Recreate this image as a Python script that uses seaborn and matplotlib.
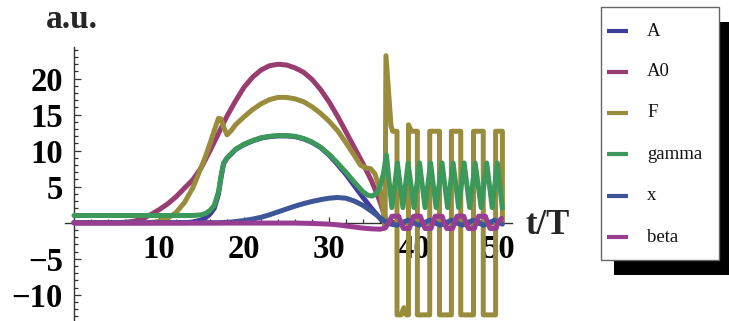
import matplotlib
matplotlib.use("Agg")
import matplotlib.pyplot as plt
from matplotlib.patches import Rectangle
from matplotlib.lines import Line2D
from matplotlib.ticker import MultipleLocator, FixedLocator
import seaborn as sns
import pandas as pd

# ---- series (time in units of T, values in a.u.) ----
series_names = ["A", "A0", "F", "gamma", "x", "beta"]
series_colors = ["#3f3d99", "#993d70", "#998d3d", "#3d9959", "#3d5699", "#993d93"]

A_t = [0, 13, 14, 15, 15.5, 16, 16.5, 17, 17.3, 17.6, 18, 19, 20, 21, 22, 23, 24, 25, 26,
       27, 28, 29, 30, 31, 32, 33, 34, 35, 36, 36.5, 50.3]
A_v = [0, 0, 0.1, 0.4, 0.7, 1.2, 2.0, 4.0, 6.3, 8.2, 8.95, 10.15, 10.85, 11.35, 11.75, 11.95,
       12.05, 12.05, 11.95, 11.65, 11.15, 10.45, 9.4, 8.1, 6.7, 5.1, 3.5, 2.0, 0.6, 0, 0]

A0_t = [0, 5, 6, 7, 8, 9, 10, 11, 12, 13, 14, 15, 16, 17, 18, 19, 20, 21, 22, 23, 24, 25,
        26, 27, 28, 29, 30, 31, 32, 33, 34, 35, 35.5, 36, 36.5, 36.8, 37, 50.3]
A0_v = [0, 0, 0.05, 0.2, 0.5, 1.1, 1.8, 2.6, 3.6, 4.8, 6.0, 7.7, 10.0, 12.4, 14.8, 16.9,
        18.8, 20.2, 21.2, 21.8, 22.0, 21.9, 21.5, 20.9, 19.9, 18.5, 16.8, 14.8, 12.6, 10.4,
        8.2, 5.8, 4.4, 2.9, 1.1, 0.2, 0, 0]

F_t = [0, 9, 10, 11, 12, 13, 14, 15, 15.5, 16, 16.5, 17, 17.3, 17.6, 18, 18.5, 19, 20, 21,
       22, 23, 24, 25, 26, 27, 28, 29, 30, 31, 32, 33, 33.7, 34.3, 34.9, 35.4, 36, 36.4,
       36.6, 36.7, 37.3, 37.5, 38.0, 38.0, 38.5, 38.8, 39.1, 39.35, 39.35, 39.7, 40.4,
       40.4, 41.85, 41.85, 43.0, 43.0, 44.4, 44.4, 45.5, 45.5, 47.0, 47.0, 48.15, 48.15,
       49.6, 49.6, 50.4, 50.4]
F_v = [0, 0, 0.2, 0.6, 1.4, 2.8, 4.9, 7.8, 9.3, 11.0, 12.8, 14.5, 14.4, 13.3, 12.2, 12.8,
       13.6, 14.7, 15.7, 16.5, 17.1, 17.4, 17.4, 17.2, 16.8, 16.1, 15.2, 14.1, 12.8, 11.1,
       9.3, 8.0, 7.6, 7.5, 6.8, 4.6, 1.5, -0.6, 23.2, 13.4, 12.7, 12.7, -12.8, -12.8,
       -11.8, -12.8, -12.8, 13.6, 12.7, 12.7, -12.8, -12.8, 12.7, 12.7, -12.8, -12.8,
       12.7, 12.7, -12.8, -12.8, 12.7, 12.7, -12.8, -12.8, 12.7, 12.7, 0]

gamma_t = [0, 14, 15, 15.5, 16, 16.5, 17, 17.3, 17.6, 18, 19, 20, 21, 22, 23, 24, 25, 26,
           27, 28, 29, 30, 31, 32, 33, 34, 34.6, 35.1, 35.6, 36.0, 36.4, 36.75, 37.4,
           38.05, 38.7, 39.3, 40.0, 40.65, 41.3, 41.95, 42.6, 43.3, 43.95, 44.6, 45.25,
           45.9, 46.55, 47.2, 47.9, 48.55, 49.2, 49.8, 50.4]
gamma_v = [1.0, 1.0, 1.1, 1.3, 1.7, 2.4, 4.3, 6.5, 8.3, 9.0, 10.2, 10.9, 11.4, 11.8, 12.0,
           12.1, 12.1, 12.0, 11.7, 11.2, 10.5, 9.5, 8.3, 7.0, 5.6, 4.3, 3.8, 3.7, 4.1, 5.0,
           6.8, 9.4, 2.1, 8.3, 2.1, 8.3, 2.1, 8.3, 2.1, 8.3, 2.1, 8.3, 2.1, 8.3, 2.1, 8.3,
           2.1, 8.3, 2.1, 8.3, 2.1, 8.3, 2.0]

x_t = [0, 17, 18, 19, 20, 21, 22, 23, 24, 25, 26, 27, 28, 29, 30, 31, 32, 33, 34, 35, 36,
       36.7, 37.3, 38.0, 38.6, 39.3, 39.9, 40.6, 41.2, 41.85, 42.45, 43.1, 43.75, 44.4,
       45.0, 45.65, 46.3, 46.95, 47.55, 48.2, 48.85, 49.5, 50.4]
x_v = [0, 0, 0.05, 0.15, 0.3, 0.5, 0.75, 1.1, 1.5, 1.9, 2.3, 2.65, 2.95, 3.2, 3.4, 3.5,
       3.4, 3.0, 2.4, 1.6, 0.7, 0.1, -0.2, -0.35, 0, 0.35, 0, -0.35, 0, 0.35, 0, -0.35,
       0, 0.35, 0, -0.35, 0, 0.35, 0, -0.35, 0, 0.35, -0.2]

beta_t = [0, 26, 28, 30, 31, 32, 33, 34, 35, 36, 36.6, 37.0, 37.4, 38.2, 38.45, 38.75,
          39.45, 39.7, 39.95, 40.75, 41.0, 41.3, 42.0, 42.25, 42.5, 43.3, 43.55, 43.85,
          44.55, 44.8, 45.05, 45.85, 46.1, 46.4, 47.1, 47.35, 47.6, 48.4, 48.65, 48.95,
          49.65, 49.9, 50.3]
beta_v = [-0.05, -0.05, -0.1, -0.2, -0.3, -0.45, -0.6, -0.75, -0.85, -0.9, -0.75, -0.1,
          0.9, 0.9, 0.05, -0.8, -0.8, 0.05, 0.9, 0.9, 0.05, -0.8, -0.8, 0.05, 0.9, 0.9,
          0.05, -0.8, -0.8, 0.05, 0.9, 0.9, 0.05, -0.8, -0.8, 0.05, 0.9, 0.9, 0.05, -0.8,
          -0.8, 0.05, 0.6]

y_major = [-10, -5, 5, 10, 15, 20]
x_major = [10, 20, 30, 40, 50]

# ---- long-form table ----
frames = []
for name, t, v in zip(series_names,
                      [A_t, A0_t, F_t, gamma_t, x_t, beta_t],
                      [A_v, A0_v, F_v, gamma_v, x_v, beta_v]):
    frames.append(pd.DataFrame({"t": t, "value": v, "series": name}))
df = pd.concat(frames, ignore_index=True)

sns.set_theme(style="white")
plt.rcParams["font.family"] = ["Liberation Serif", "DejaVu Serif"]
plt.rcParams["axes.unicode_minus"] = True

W, H = 729, 321
fig = plt.figure(figsize=(W / 100, H / 100), dpi=100)
fig.patch.set_facecolor("white")

# axes box in pixel terms: x-axis from px 65 to 512, y-axis from px 47 to 321
ax = fig.add_axes([65 / W, 0, 447 / W, 274 / H])
ax.set_facecolor("none")

sns.lineplot(data=df, x="t", y="value", hue="series", hue_order=series_names,
             palette=series_colors, sort=False, estimator=None, linewidth=3.6,
             legend=False, ax=ax, solid_joinstyle="round")

ax.set_xlim(-1.06, 51.53)
ax.set_ylim(-13.65, 24.4)

for side in ["top", "right"]:
    ax.spines[side].set_visible(False)
for side in ["left", "bottom"]:
    ax.spines[side].set_position(("data", 0))
    ax.spines[side].set_color("#333333")
    ax.spines[side].set_linewidth(1.0)
    ax.spines[side].set_zorder(0.5)

ax.yaxis.set_major_locator(FixedLocator(y_major))
ax.yaxis.set_minor_locator(MultipleLocator(1))
ax.xaxis.set_major_locator(FixedLocator(x_major))
ax.xaxis.set_minor_locator(MultipleLocator(2))
ax.set_yticklabels([f"{v}".replace("-", "\u2212") for v in y_major])
ax.set_xticklabels([str(v) for v in x_major])

ax.tick_params(axis="both", which="both", direction="in", color="#333333", width=0.9,
               left=True, bottom=True)
ax.tick_params(axis="y", which="major", length=5, pad=8)
ax.tick_params(axis="y", which="minor", length=3)
ax.tick_params(axis="x", which="major", length=4, pad=8)
ax.tick_params(axis="x", which="minor", length=3)
for lab in ax.get_xticklabels() + ax.get_yticklabels():
    lab.set_fontsize(23.5)
    lab.set_fontweight("bold")
    lab.set_color("black")
ax.set_xlabel("")
ax.set_ylabel("")

# axis captions
fig.text(46 / W, 1 - 28 / H, "a.u.", fontsize=24, fontweight="bold",
         ha="left", va="baseline")
fig.text(525 / W, 1 - 234 / H, "t/T", fontsize=25, fontweight="bold",
         ha="left", va="baseline")

# ---- legend panel with drop shadow ----
bx0, by0, bx1, by1 = 601, 7, 719, 260
sh_dx, sh_dy = 13, 15
fig.patches.append(Rectangle(((bx0 + sh_dx) / W, 1 - (by1 + sh_dy) / H),
                             (bx1 - bx0) / W, (by1 - by0) / H,
                             transform=fig.transFigure, facecolor="black",
                             edgecolor="none", zorder=1))
fig.patches.append(Rectangle((bx0 / W, 1 - by1 / H), (bx1 - bx0) / W, (by1 - by0) / H,
                             transform=fig.transFigure, facecolor="white",
                             edgecolor="#666666", linewidth=1.0, zorder=2))
entry_y = [31, 72, 113, 154, 196, 237]
for name, col, yy in zip(series_names, series_colors, entry_y):
    fig.lines.append(Line2D([607 / W, 628 / W], [1 - yy / H, 1 - yy / H],
                            transform=fig.transFigure, color=col, linewidth=3.0,
                            solid_capstyle="butt", zorder=3))
    fig.text(647 / W, 1 - yy / H, name, fontsize=13.5, ha="left", va="center",
             color="#111111", zorder=4)

fig.savefig("out.png", dpi=100, facecolor="white")
